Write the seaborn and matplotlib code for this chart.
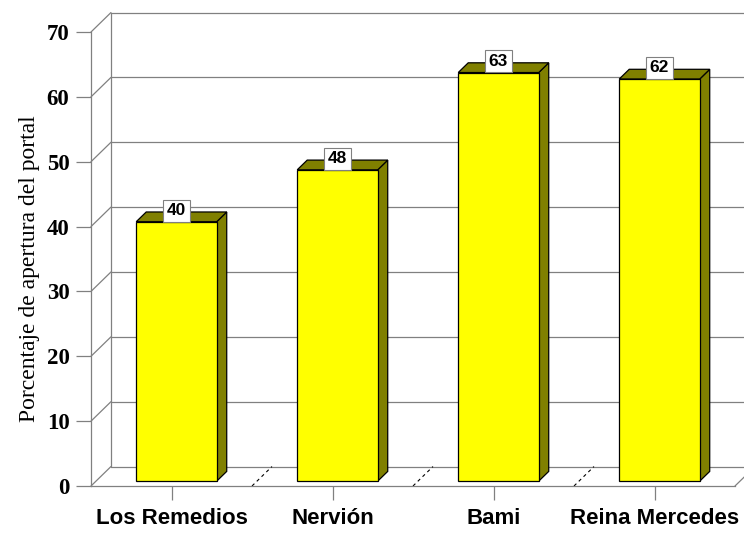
import matplotlib
matplotlib.use("Agg")
import matplotlib.pyplot as plt
import seaborn as sns
import pandas as pd
from matplotlib.patches import Polygon

# data
sites = ["Los Remedios", "Nervión", "Bami", "Reina Mercedes"]
apertura = [40, 48, 63, 62]
y_ticks = [0, 10, 20, 30, 40, 50, 60, 70]
y_label = "Porcentaje de apertura del portal"

df = pd.DataFrame({"sitio": sites, "apertura": apertura})

sns.set_style("white")
plt.rcParams["font.family"] = ["Liberation Sans", "DejaVu Sans"]
plt.rcParams["text.color"] = "black"
plt.rcParams["axes.labelcolor"] = "black"
plt.rcParams["xtick.labelcolor"] = "black"
plt.rcParams["ytick.labelcolor"] = "black"

GRID = "#808080"
FACE = "#FFFF00"
SHADE = "#808000"

# depth of the 3-D box, in data units (x: categories, y: percent)
DX, DY = 0.124, 3.0
# bars sit in the middle half of the depth
BAR_FRONT = 0.25
BAR_DEPTH = 0.5

fig = plt.figure(figsize=(7.44, 5.35), dpi=100)
ax = fig.add_axes([91 / 744, 49 / 535, 644 / 744, 454 / 535])

sns.barplot(data=df, x="sitio", y="apertura", color=FACE, saturation=1,
            width=0.5, edgecolor="black", linewidth=0.9, ax=ax, zorder=3)

ax.set_xlim(-0.5, len(sites) - 0.5)
ax.set_ylim(0, 70)
x0, x1 = ax.get_xlim()
ymax = y_ticks[-1]

# back wall, left wall diagonals and horizontal grid
line_kw = dict(color=GRID, lw=0.9, clip_on=False, zorder=1)
ax.plot([x0 + DX, x0 + DX], [DY, ymax + DY], **line_kw)
for v in y_ticks:
    ax.plot([x0 + DX, x1 + DX + 0.2], [v + DY, v + DY], **line_kw)
    ax.plot([x0, x0 + DX], [v, v + DY], **line_kw)

# floor: right edge and dashed category dividers
ax.plot([x1, x1 + DX], [0, DY], **line_kw)
for b in range(1, len(sites)):
    ax.plot([b - 0.5, b - 0.5 + DX], [0, DY], color="black", lw=0.8,
            ls=(0, (3, 3)), clip_on=False, zorder=1)

# move the front faces into the box and add side/top faces
fdx, fdy = BAR_FRONT * DX, BAR_FRONT * DY
bdx, bdy = BAR_DEPTH * DX, BAR_DEPTH * DY
for patch, val in zip(ax.patches, apertura):
    patch.set_x(patch.get_x() + fdx)
    patch.set_y(fdy)
    patch.set_height(val)
    left = patch.get_x()
    right = left + patch.get_width()
    base = fdy
    top = val + fdy
    side = Polygon([(right, base), (right + bdx, base + bdy),
                    (right + bdx, top + bdy), (right, top)], closed=True,
                   facecolor=SHADE, edgecolor="black", lw=0.9, zorder=2.9)
    lid = Polygon([(left, top), (left + bdx, top + bdy),
                   (right + bdx, top + bdy), (right, top)], closed=True,
                  facecolor=SHADE, edgecolor="black", lw=0.9, zorder=2.9)
    ax.add_patch(side)
    ax.add_patch(lid)
    ax.annotate(f"{val}", xy=(left + patch.get_width() / 2, top),
                xytext=(0, 2.6), textcoords="offset points",
                ha="center", va="bottom", fontsize=12.5, fontweight="bold",
                color="black", zorder=6,
                bbox=dict(boxstyle="square,pad=0.2", facecolor="white",
                          edgecolor=GRID, lw=0.8))

# axes styling
for s in ["top", "right"]:
    ax.spines[s].set_visible(False)
for s in ["left", "bottom"]:
    ax.spines[s].set_color(GRID)
    ax.spines[s].set_linewidth(0.9)
    ax.spines[s].set_zorder(1)

ax.set_yticks(y_ticks)
ax.set_yticklabels([str(v) for v in y_ticks], fontfamily="Liberation Serif",
                   fontweight="bold", fontsize=16.5)
ax.tick_params(axis="y", direction="out", length=10.5, width=0.9,
               color=GRID, pad=5, left=True)
ax.tick_params(axis="x", direction="out", length=9.75, width=0.9,
               color=GRID, pad=6, bottom=True)
for lbl in ax.get_xticklabels():
    lbl.set_fontweight("bold")
    lbl.set_fontsize(16)
    lbl.set_color("black")
ax.set_xlabel("")
ax.set_ylabel(y_label, fontfamily="Liberation Serif", fontsize=17,
              color="black")
ax.yaxis.set_label_coords(-0.079, 0.479)

fig.savefig("out.png", dpi=100)
